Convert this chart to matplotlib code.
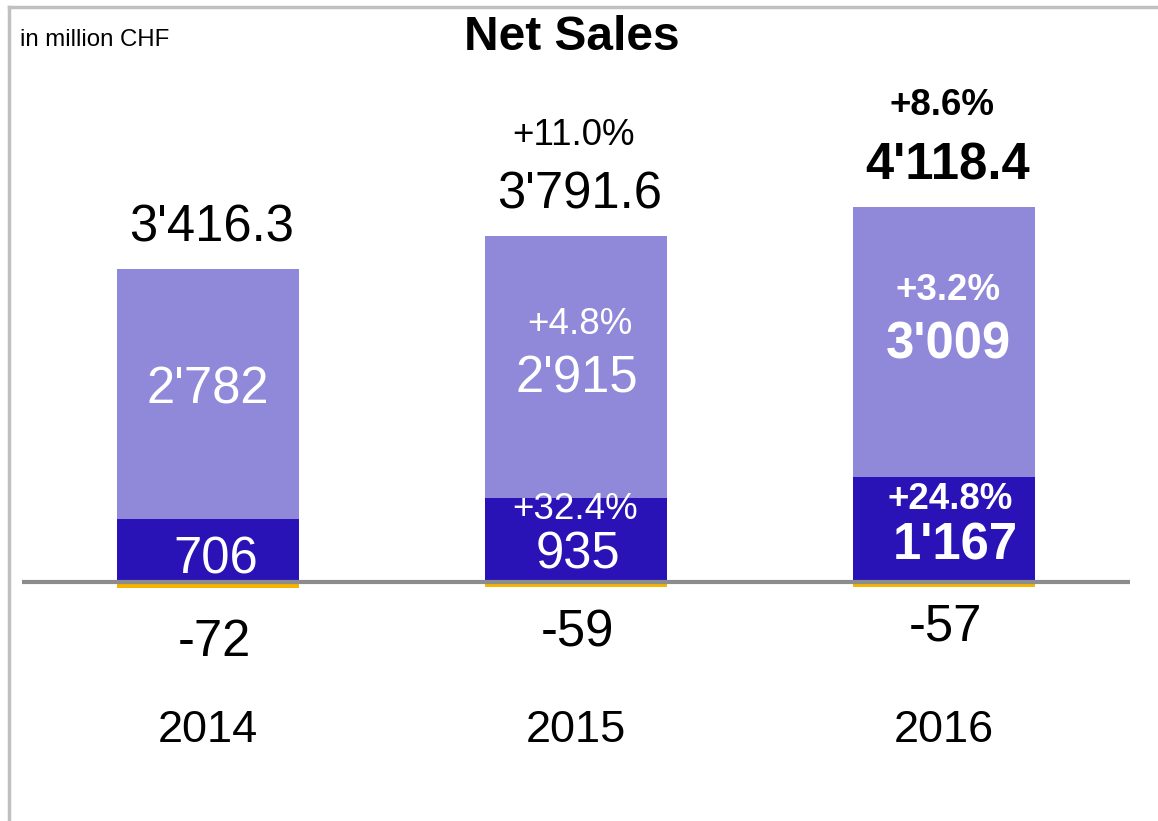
import matplotlib
matplotlib.use("Agg")
import matplotlib.pyplot as plt
from matplotlib.lines import Line2D

plt.rcParams['font.family'] = ['Liberation Sans', 'DejaVu Sans']

years = ['2014', '2015', '2016']
dark_vals = [706, 935, 1167]
light_vals = [2782, 2915, 3009]
neg_vals = [-72, -59, -57]
total_vals = [3416.3, 3791.6, 4118.4]
growth_total = ['', '+11.0%', '+8.6%']
growth_light = ['', '+4.8%', '+3.2%']
growth_dark = ['', '+32.4%', '+24.8%']
bold_flags = [False, False, True]

DARK = '#2913B6'
LIGHT = '#9088D9'
YELLOW = '#F4B400'


def fmt(v, dec=0):
    s = f"{v:,.{dec}f}"
    return s.replace(',', "'")


W, H = 1158, 821
fig = plt.figure(figsize=(W / 100, H / 100), dpi=100)
ax = fig.add_axes([0, 0, 1, 1])

# pixel mapping
x0_px, step_px = 208, 368
base_px = 582  # from top
scale = 0.0898  # px per unit
ax.set_xlim(-x0_px / step_px, (W - x0_px) / step_px)
ax.set_ylim(-(H - base_px) / scale, base_px / scale)
ax.axis('off')

xs = list(range(len(years)))
bw = 182 / step_px
ax.bar(xs, dark_vals, width=bw, color=DARK, zorder=2)
ax.bar(xs, light_vals, width=bw, bottom=dark_vals, color=LIGHT, zorder=2)
ax.bar(xs, neg_vals, width=bw, color=YELLOW, zorder=2)
ax.plot([(22 - x0_px) / step_px, (1130 - x0_px) / step_px], [0, 0],
        color='#8C8C8C', lw=3, zorder=3, solid_capstyle='butt')


def put(x, y, s, dx_px, dy_px, size, color='black', bold=False):
    ax.annotate(s, xy=(x, y), xytext=(dx_px, dy_px), textcoords='offset pixels',
                ha='center', va='center', fontsize=size, color=color,
                fontweight='bold' if bold else 'normal', zorder=4)


PCT = 26.5
for i in xs:
    b = bold_flags[i]
    top = dark_vals[i] + light_vals[i]
    # totals
    put(i, top, fmt(total_vals[i], 1), 4, 41, 36.5, bold=b)
    if growth_total[i]:
        put(i, top, growth_total[i], -2, 101, PCT, bold=b)
    # light segment
    mid_l = dark_vals[i] + light_vals[i] / 2
    dy = [8, -8, 1][i]
    put(i, mid_l, fmt(light_vals[i]), [0, 1, 4][i], dy - 4, 36.5, color='white', bold=b)
    if growth_light[i]:
        put(i, mid_l, growth_light[i], [0, 4, 4][i], dy + 51, PCT, color='white', bold=b)
    # dark segment
    mid_d = dark_vals[i] / 2
    dyd = [-5, -10, -11][i]
    put(i, mid_d, fmt(dark_vals[i]), [8, 2, 11][i], dyd - 5, 36.5, color='white', bold=b)
    if growth_dark[i]:
        put(i, mid_d, growth_dark[i], [0, -1, 6][i], dyd + 41, PCT, color='white', bold=b)
    # negative
    put(i, 0, fmt(neg_vals[i]), [6, 1, 1][i], [-61, -51, -45][i], 36.5)
    # year
    put(i, 0, years[i], 0, -149, 32.5)

fig.text(572 / W, 1 - 38 / H, 'Net Sales', ha='center', va='center',
         fontsize=34.5, fontweight='bold')
fig.text(20 / W, 1 - 40 / H, 'in million CHF', ha='left', va='center', fontsize=17.3)

# frame lines
fig.add_artist(Line2D([9 / W, 1], [1 - 7.5 / H, 1 - 7.5 / H], color='#C0C0C0', lw=2.5,
                      transform=fig.transFigure))
fig.add_artist(Line2D([9 / W, 9 / W], [0, 1 - 7.5 / H], color='#C0C0C0', lw=2.5,
                      transform=fig.transFigure))

fig.savefig('out.png', dpi=100)
